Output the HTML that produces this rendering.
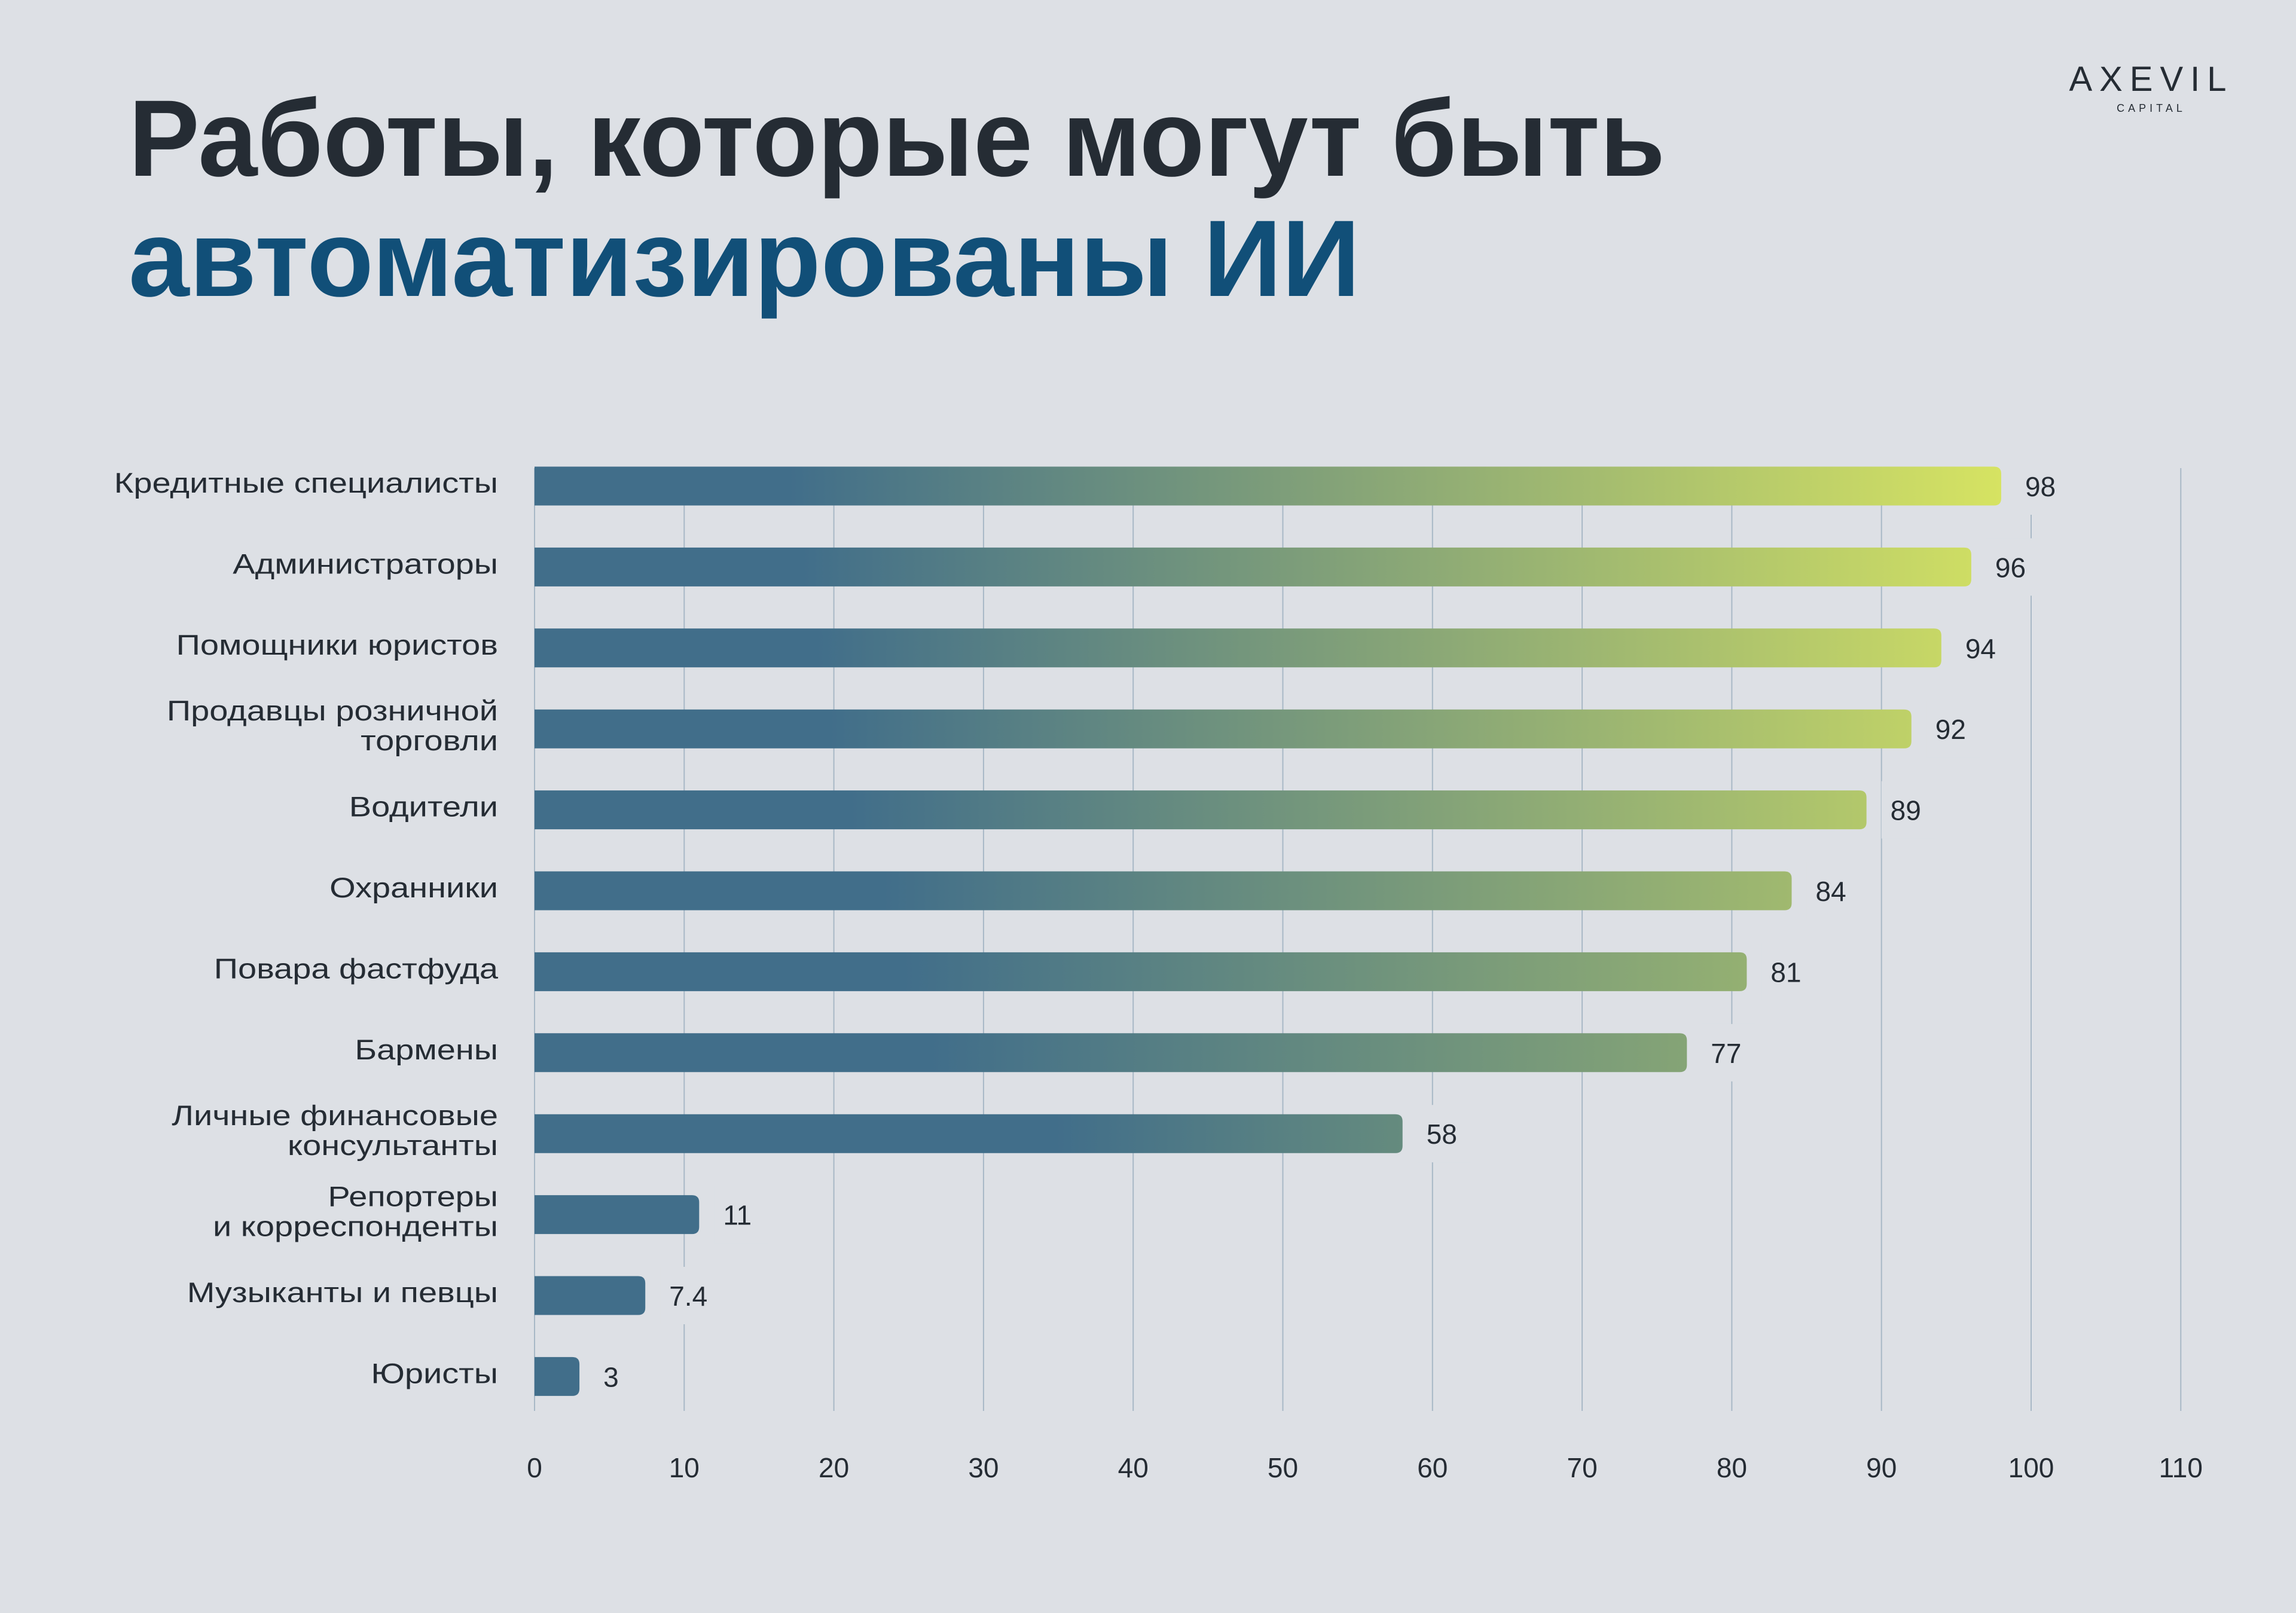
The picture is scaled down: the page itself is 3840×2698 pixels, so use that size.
<!DOCTYPE html>
<html><head><meta charset="utf-8"><style>
html,body{margin:0;padding:0;background:#dde0e5;}
svg{display:block;}
text{font-family:"Liberation Sans",sans-serif;}
</style></head><body>
<svg id="chart" width="3840" height="2698" viewBox="0 0 3840 2698" xmlns="http://www.w3.org/2000/svg">
<rect width="3840" height="2698" fill="#dde0e5"/>
<text x="215" y="294" font-size="182" font-weight="bold" fill="#252c34" textLength="2570" lengthAdjust="spacingAndGlyphs">Работы, которые могут быть</text>
<text x="215" y="495" font-size="182" font-weight="bold" fill="#114f78" textLength="2060" lengthAdjust="spacingAndGlyphs">автоматизированы ИИ</text>
<g>
<text x="3598" y="152" font-size="58" text-anchor="middle" fill="#252c34" letter-spacing="12">AXEVIL</text>
<text x="3598" y="187" font-size="18" text-anchor="middle" fill="#252c34" letter-spacing="6">CAPITAL</text>
</g>
<defs id="defs"></defs>
<g id="grid"></g>
<g id="bars"></g>
<g id="labels"></g>
<g id="values"></g>
<g id="ticks"></g>
</svg>
<script>
const categories = [["Кредитные специалисты"],["Администраторы"],["Помощники юристов"],["Продавцы розничной","торговли"],["Водители"],["Охранники"],["Повара фастфуда"],["Бармены"],["Личные финансовые","консультанты"],["Репортеры","и корреспонденты"],["Музыканты и певцы"],["Юристы"]];
const values = [98,96,94,92,89,84,81,77,58,11,7.4,3];
const valueLabels = ["98","96","94","92","89","84","81","77","58","11","7.4","3"];
const tickValues = [0,10,20,30,40,50,60,70,80,90,100,110];
const tickLabels = ["0","10","20","30","40","50","60","70","80","90","100","110"];

const NS="http://www.w3.org/2000/svg";
const X0=894, PX=25.03, Y0=813, STEP=135.4, BH=65;
const xs=v=>X0+v*PX, ys=i=>Y0+i*STEP;
function mk(t,a,p){const e=document.createElementNS(NS,t);for(const k in a)e.setAttribute(k,a[k]);p.appendChild(e);return e;}
function lerp(a,b,t){return a.map((c,i)=>Math.round(c+(b[i]-c)*t));}
function endColor(v){
  const blue=[65,110,138],c58=[101,139,126],c77=[133,164,118],c98=[214,227,98];
  let c;
  if(v<=20)c=blue;else if(v<=58)c=lerp(blue,c58,(v-20)/38);else if(v<=77)c=lerp(c58,c77,(v-58)/19);else c=lerp(c77,c98,Math.min(1,(v-77)/21));
  return `rgb(${c[0]},${c[1]},${c[2]})`;
}
const grid=document.getElementById('grid'),bars=document.getElementById('bars'),labels=document.getElementById('labels'),vals=document.getElementById('values'),ticks=document.getElementById('ticks'),defs=document.getElementById('defs');
tickValues.forEach((t,i)=>{
  const l=mk('line',{x1:xs(t),x2:xs(t),y1:783,y2:2360,stroke:'#a8b8c6','stroke-width':2},grid);
  
  
  const tx=mk('text',{x:xs(t),y:2471,'font-size':46,'text-anchor':'middle',fill:'#252c34'},ticks);
  tx.textContent=tickLabels[i];
  
  
});
values.forEach((v,i)=>{
  const cy=ys(i), x1=xs(v);
  const g=mk('linearGradient',{id:'g'+i,x1:0,x2:1,y1:0,y2:0},defs);
  const blueEnd=Math.max(5,35-(v-58)*0.45);
  mk('stop',{offset:v>40?Math.min(0.6,blueEnd/v):0,'stop-color':'#416e8a'},g);
  mk('stop',{offset:1,'stop-color':endColor(v)},g);
  const r=12;
  const p=mk('path',{d:`M${X0},${cy-BH/2}H${x1-r}Q${x1},${cy-BH/2} ${x1},${cy-BH/2+r}V${cy+BH/2-r}Q${x1},${cy+BH/2} ${x1-r},${cy+BH/2}H${X0}Z`,fill:`url(#g${i})`},bars);
  
  
  const bg=mk('rect',{x:x1+25,y:cy-48,width:valueLabels[i].length*30+30,height:96,fill:'#dde0e5'},vals);
  
  
  const t=mk('text',{x:x1+40,y:cy+17,'font-size':46,fill:'#252c34'},vals);
  t.textContent=valueLabels[i];
  
  
  const lines=categories[i];
  lines.forEach((s,j)=>{
    const off=lines.length===1?0:(j===0?-25:25);
    const lt=mk('text',{x:833,y:cy+off+17-6,'font-size':47,'text-anchor':'end',fill:'#252c34'},labels);
    lt.textContent=s;
    
    
    const len=lt.getComputedTextLength();
    if(len>0){lt.setAttribute('textLength',(len*1.19).toFixed(1));lt.setAttribute('lengthAdjust','spacingAndGlyphs');}
  });
});
</script>
</body></html>
